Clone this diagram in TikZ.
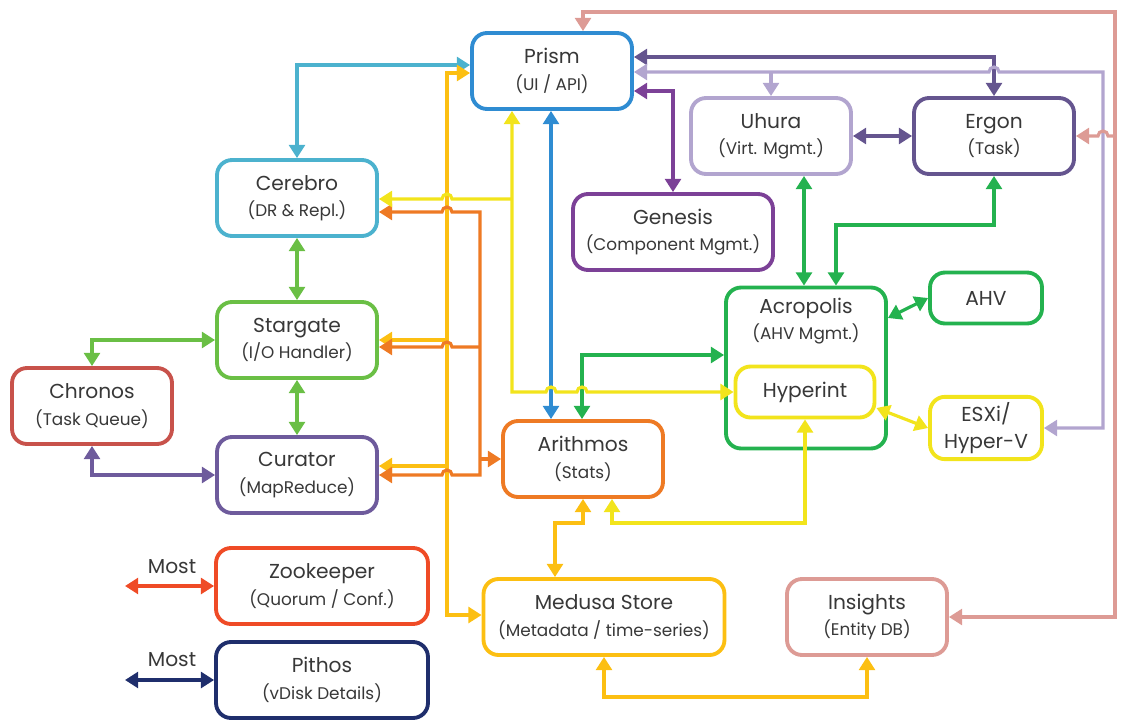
\documentclass[tikz,border=0pt]{standalone}
\usepackage{fontspec}
\setmainfont{Poppins}
\usetikzlibrary{arrows.meta}

\definecolor{prismblue}{HTML}{2F8CD2}
\definecolor{cerebrocyan}{HTML}{4CB2CE}
\definecolor{stargategreen}{HTML}{6ABF45}
\definecolor{chronosred}{HTML}{C8524B}
\definecolor{curatorpurple}{HTML}{6E5B9C}
\definecolor{zookeeperred}{HTML}{EF4B26}
\definecolor{pithosnavy}{HTML}{1F2E6C}
\definecolor{arithmosorange}{HTML}{EE7A24}
\definecolor{medusagold}{HTML}{FCBF12}
\definecolor{insightspink}{HTML}{DD9B95}
\definecolor{genesispurple}{HTML}{7C4197}
\definecolor{uhuralilac}{HTML}{B2A5CF}
\definecolor{ergonpurple}{HTML}{65558F}
\definecolor{acropolisgreen}{HTML}{24B24F}
\definecolor{hyperintyellow}{HTML}{F2E41C}
\definecolor{labelgray}{HTML}{383838}

\newcommand{\nodesub}[1]{{\fontsize{9.6}{11}\selectfont #1}}

\begin{document}
\begin{tikzpicture}[
          x=0.02cm, y=-0.02cm,
          block/.style = {draw, rectangle, rounded corners=0.3cm, line width=2.2pt, fill=white,
                          minimum width=3.2cm, minimum height=1.52cm, align=center,
                          text=labelgray, font=\fontsize{11.5}{15}\selectfont},
          small/.style = {block, minimum width=2.24cm, minimum height=1.02cm},
          most/.style = {text=labelgray, font=\fontsize{11.5}{15}\selectfont},
          link/.style = {line width=1.8pt, >={Triangle[length=7.5pt,width=9pt]}}
        ]
        \useasboundingbox (0,0) rectangle (1123,720);

        \node[block, draw=prismblue] (prism) at (552,71) {Prism\\\nodesub{(UI / API)}};
        \node[block, draw=cerebrocyan] (cerebro) at (297,198) {Cerebro\\\nodesub{(DR \& Repl.)}};
        \node[block, draw=stargategreen] (stargate) at (297,340) {Stargate\\\nodesub{(I/O Handler)}};
        \node[block, draw=chronosred] (chronos) at (92,406) {Chronos\\\nodesub{(Task Queue)}};
        \node[block, draw=curatorpurple] (curator) at (297,475) {Curator\\\nodesub{(MapReduce)}};
        \node[block, draw=zookeeperred, minimum width=4.24cm] (zookeeper) at (322,586) {Zookeeper\\\nodesub{(Quorum / Conf.)}};
        \node[block, draw=pithosnavy, minimum width=4.24cm] (pithos) at (322,680) {Pithos\\\nodesub{(vDisk Details)}};
        \node[block, draw=arithmosorange] (arithmos) at (583,459) {Arithmos\\\nodesub{(Stats)}};
        \node[block, draw=medusagold, minimum width=4.82cm] (medusa) at (604,617) {Medusa Store\\\nodesub{(Metadata / time-series)}};
        \node[block, draw=insightspink] (insights) at (867,617) {Insights\\\nodesub{(Entity DB)}};
        \node[block, draw=genesispurple, minimum width=4cm] (genesis) at (673,232) {Genesis\\\nodesub{(Component Mgmt.)}};
        \node[block, draw=uhuralilac] (uhura) at (771,136) {Uhura\\\nodesub{(Virt. Mgmt.)}};
        \node[block, draw=ergonpurple] (ergon) at (994,136) {Ergon\\\nodesub{(Task)}};

        \node[block, draw=acropolisgreen, minimum height=3.22cm] (acropolis) at (806,368) {};
        \node[most, align=center] (acropolislabel) at (806,321) {Acropolis\\\nodesub{(AHV Mgmt.)}};
        \node[small, draw=hyperintyellow, minimum width=2.78cm] (hyperint) at (805,392) {Hyperint};
        \node[small, draw=acropolisgreen] (ahv) at (986,298) {AHV};
        \node[small, draw=hyperintyellow] (esxi) at (986,428) {ESXi/\\Hyper-V};

        \coordinate (goldbus) at (447,0);
        \coordinate (orangebus) at (480,0);
        \coordinate (yellowbus) at (512,0);

        \draw[link, <->, draw=cerebrocyan] (cerebro.north) |- (prism.west |- 0,65);
        \draw[link, <->, draw=medusagold] (prism.west |- 0,73) -| (goldbus |- 0,615) -- (medusa.west |- 0,615);
        \draw[link, ->, draw=medusagold] (goldbus |- 0,340) -- (stargate.east |- 0,340);
        \draw[link, ->, draw=medusagold] (goldbus |- 0,466) -- (curator.east |- 0,466);

        \draw[link, <->, draw=arithmosorange] (cerebro.east |- 0,212) -- (442,212) arc[start angle=180, end angle=0, radius=0.1cm]
          -| (orangebus |- 0,475) -- (452,475) arc[start angle=0, end angle=180, radius=0.1cm] -- (curator.east |- 0,475);
        \draw[link, ->, draw=arithmosorange] (orangebus |- 0,347) -- (452,347) arc[start angle=0, end angle=180, radius=0.1cm] -- (stargate.east |- 0,347);
        \draw[link, ->, draw=arithmosorange] (orangebus |- arithmos.west) -- (arithmos.west);

        \draw[link, <->, draw=prismblue] (prism.south -| 551,0) -- (arithmos.north -| 551,0);
        \draw[link, <->, draw=acropolisgreen] (arithmos.north -| 582,0) |- (acropolis.west |- 0,355);

        \draw[link, <->, draw=hyperintyellow] (prism.south -| yellowbus) -- (yellowbus |- hyperint.west) -- (546,392) arc[start angle=180, end angle=0, radius=0.1cm]
          -- (577,392) arc[start angle=180, end angle=0, radius=0.1cm] -- (hyperint.west);
        \draw[link, ->, draw=hyperintyellow] (yellowbus |- 0,199) -- (452,199) arc[start angle=0, end angle=180, radius=0.1cm] -- (cerebro.east |- 0,199);
        \draw[link, <->, draw=hyperintyellow] (hyperint.south) |- (612,523) -- (arithmos.south -| 612,0);
        \draw[link, <->, draw=hyperintyellow] ([yshift=-0.32cm]hyperint.east) -- (esxi.west);

        \draw[link, <->, draw=acropolisgreen] (uhura.south -| 804,0) -- (acropolis.north -| 804,0);
        \draw[link, <->, draw=acropolisgreen] (acropolis.north -| 836,0) |- (ergon.south |- 0,225) -- (ergon.south);
        \draw[link, <->, draw=acropolisgreen] ([yshift=1cm]acropolis.east) -- (ahv.west);

        \draw[link, <->, draw=ergonpurple] (prism.east |- 0,57) -| (ergon.north);
        \draw[link, <->, draw=ergonpurple] (uhura.east) -- (ergon.west);
        \draw[link, <->, draw=genesispurple] (prism.east |- 0,91) -| (genesis.north);
        \draw[link, <->, draw=uhuralilac] (prism.east |- 0,72) -- (989,72) arc[start angle=180, end angle=0, radius=0.1cm] -- (1103,72) |- (esxi.east);
        \draw[link, ->, draw=uhuralilac] (uhura.north |- 0,72) -- (uhura.north);

        \draw[link, <->, draw=insightspink] (insights.east) -| (1115,12) -| (prism.north -| 583,0);
        \draw[link, ->, draw=insightspink] (1115,136) -- (1108,136) arc[start angle=0, end angle=180, radius=0.1cm] -- (ergon.east);

        \draw[link, <->, draw=medusagold] (medusa.north -| 555,0) |- (arithmos.south |- 0,523) -- (arithmos.south);
        \draw[link, <->, draw=medusagold] (medusa.south) |- (insights.south |- 0,697) -- (insights.south);

        \draw[link, <->, draw=stargategreen] (cerebro.south) -- (stargate.north);
        \draw[link, <->, draw=stargategreen] (stargate.south) -- (curator.north);
        \draw[link, <->, draw=stargategreen] (stargate.west) -| (chronos.north);
        \draw[link, <->, draw=curatorpurple] (chronos.south) |- (curator.west);

        \coordinate (zkmost) at (zookeeper.west -| 125,0);
        \coordinate (pimost) at (pithos.west -| 125,0);
        \draw[link, <->, draw=zookeeperred] (zookeeper.west) -- (zkmost);
        \draw[link, <->, draw=pithosnavy] (pithos.west) -- (pimost);
        \node[most] (zklabel) at (172,567) {Most};
        \node[most] (pilabel) at (172,660) {Most};
      \end{tikzpicture}
\end{document}
